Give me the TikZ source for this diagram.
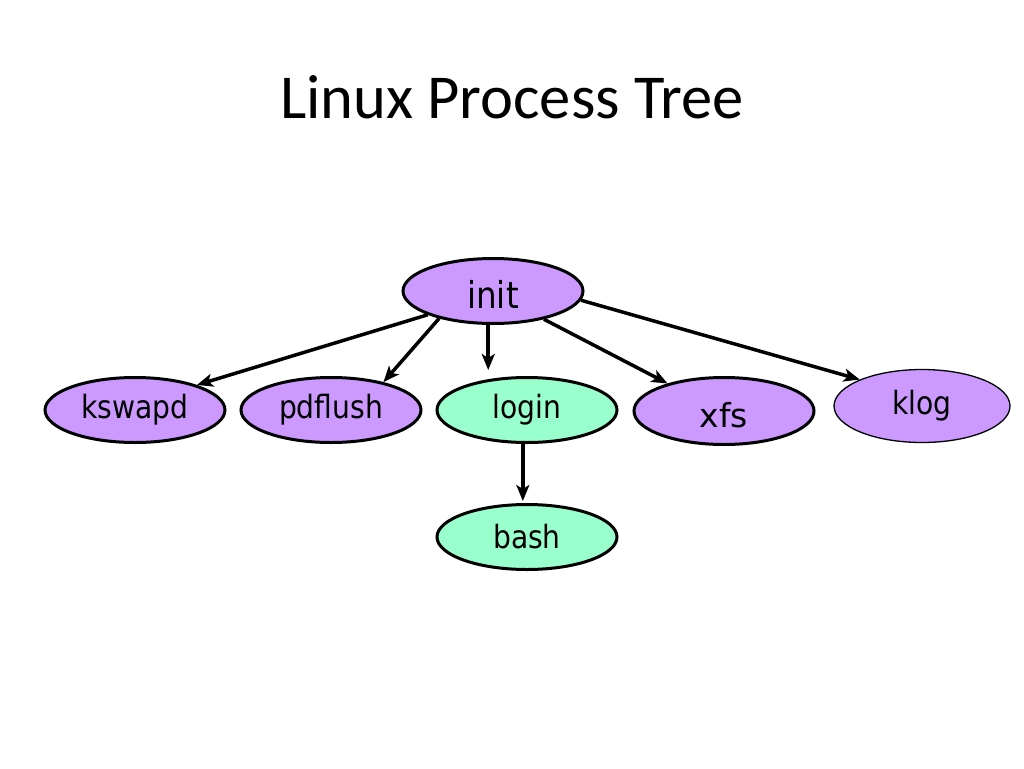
\documentclass[tikz,border=0pt]{standalone}
\usepackage{fontspec}
\setmainfont{Carlito}
\newfontfamily\procfont[FakeStretch=0.88]{DejaVu Sans}
\newfontfamily\procwide{DejaVu Sans}
\usepackage{tikz}
\usetikzlibrary{shapes.geometric, arrows.meta}
\definecolor{procpurple}{RGB}{204,153,255}
\definecolor{procgreen}{RGB}{153,255,204}

\begin{document}
\begin{tikzpicture}[x=1pt, y=-1pt, proc/.style={draw, ellipse, minimum width=180pt, minimum height=65pt, inner sep=0pt, line width=3pt, fill=procpurple, font=\procfont\fontsize{32}{34}\selectfont}, user/.style={proc, fill=procgreen}, n/.style={-{Stealth[length=16pt, width=13pt, inset=4pt]}, line width=3.5pt}]
            \useasboundingbox (0,0) rectangle (1024,768);
            % title
            \node (title) at (512,97) {\fontsize{62.5}{70}\selectfont Linux Process Tree};
            % nodes
            \node[proc, text height=34pt] (init) at (493,291) {\fontsize{37}{40}\selectfont init};

            \node[proc] (kswapd) at (135,410) {kswapd};
            \node[proc] (pdflush) at (331,410) {pdflush};
            \node[user] (login) at (527,410) {login};
            \node[proc, minimum height=67pt, text height=33pt] (xfs) at (724,411) {\procwide\fontsize{33}{36}\selectfont xfs};
            \node[proc, line width=1.3pt, minimum width=176pt, minimum height=73pt] (klog) at (922,406) {klog};

            \node[user] (bash) at (527,537) {bash};
            % edges
            \draw [n] (init.200) -- (kswapd.22);
            \draw [n] (init.207) -- (pdflush.28);
            \draw [n, shorten >=6pt] (init.262) -- (init.262 |- login.north);
            \draw [n] (init.331) -- (xfs.154);
            \draw [n] (init.354) -- (klog.157);

            \draw [n, shorten >=2pt] (login.263) -- (login.263 |- bash.north);
        \end{tikzpicture}
\end{document}
